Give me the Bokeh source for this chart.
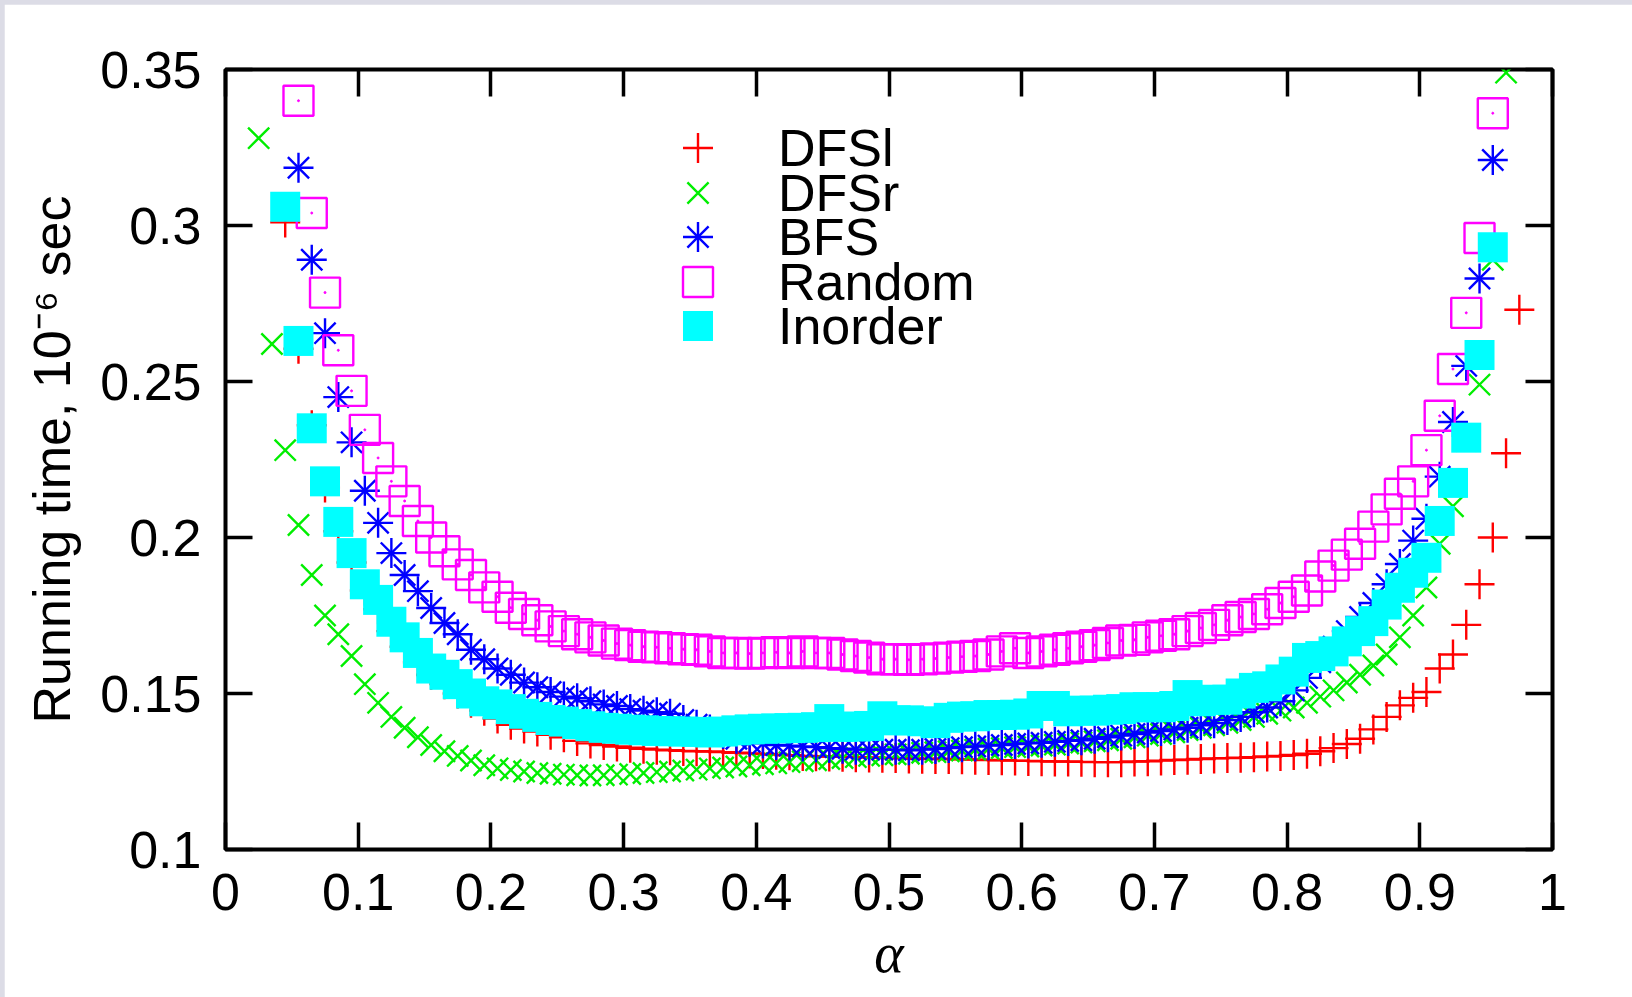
from bokeh.plotting import figure
from bokeh.models import Range1d, LinearAxis, FixedTicker, Legend, LegendItem, ColumnDataSource
from bokeh.layouts import column
from bokeh.embed import file_html
from bokeh.resources import INLINE
import numpy as np

# ---------------- data ----------------
alpha = [0.025, 0.035, 0.045, 0.055, 0.065, 0.075, 0.085, 0.095, 0.105, 0.115,
         0.125, 0.135, 0.145, 0.155, 0.165, 0.175, 0.185, 0.195, 0.205, 0.215,
         0.225, 0.235, 0.245, 0.255, 0.265, 0.275, 0.285, 0.295, 0.305, 0.315,
         0.325, 0.335, 0.345, 0.355, 0.365, 0.375, 0.385, 0.395, 0.405, 0.415,
         0.425, 0.435, 0.445, 0.455, 0.465, 0.475, 0.485, 0.495, 0.505, 0.515,
         0.525, 0.535, 0.545, 0.555, 0.565, 0.575, 0.585, 0.595, 0.605, 0.615,
         0.625, 0.635, 0.645, 0.655, 0.665, 0.675, 0.685, 0.695, 0.705, 0.715,
         0.725, 0.735, 0.745, 0.755, 0.765, 0.775, 0.785, 0.795, 0.805, 0.815,
         0.825, 0.835, 0.845, 0.855, 0.865, 0.875, 0.885, 0.895, 0.905, 0.915,
         0.925, 0.935, 0.945, 0.955, 0.965, 0.975]

dfsl = [None, None, 0.301, 0.2605, 0.236, 0.216, 0.202, 0.192, 0.183, 0.177,
        0.170, 0.165, 0.160, 0.156, 0.153, 0.150, 0.147, 0.1445, 0.142, 0.140,
        0.1388, 0.1378, 0.1368, 0.136, 0.1348, 0.134, 0.1335, 0.133, 0.1326, 0.1323,
        0.132, 0.1318, 0.1316, 0.1315, 0.1314, 0.1312, 0.131, 0.1308, 0.1306, 0.1304,
        0.1302, 0.130, 0.1299, 0.1298, 0.1297, 0.1296, 0.1295, 0.1294, 0.1293, 0.1292,
        0.1291, 0.129, 0.129, 0.1289, 0.1288, 0.1287, 0.1286, 0.1285, 0.1284, 0.1283,
        0.1282, 0.1282, 0.1281, 0.128, 0.128, 0.128, 0.1282, 0.1283, 0.1285, 0.1287,
        0.1288, 0.129, 0.1292, 0.1293, 0.1294, 0.1296, 0.1298, 0.130, 0.1303, 0.1307,
        0.1315, 0.1325, 0.1338, 0.1355, 0.1385, 0.1425, 0.1462, 0.1486, 0.1505, 0.158,
        0.1625, 0.172, 0.185, 0.200, 0.227, 0.273]

dfsr = [0.328, 0.262, 0.228, 0.204, 0.188, 0.175, 0.169, 0.162, 0.153, 0.147,
        0.1425, 0.139, 0.136, 0.1335, 0.1315, 0.130, 0.1285, 0.127, 0.126, 0.1255,
        0.125, 0.1245, 0.1243, 0.124, 0.1238, 0.1237, 0.1238, 0.124, 0.1242, 0.1245,
        0.1248, 0.125, 0.1253, 0.1256, 0.126, 0.1263, 0.1266, 0.127, 0.1273, 0.1276,
        0.128, 0.1283, 0.1286, 0.129, 0.1293, 0.1296, 0.130, 0.1302, 0.1305, 0.1307,
        0.131, 0.1312, 0.1315, 0.1317, 0.132, 0.1323, 0.1325, 0.1328, 0.133, 0.1333,
        0.1336, 0.134, 0.1343, 0.1347, 0.135, 0.1355, 0.136, 0.1365, 0.137, 0.1376,
        0.1383, 0.139, 0.1398, 0.1406, 0.1415, 0.1425, 0.1435, 0.1445, 0.1455, 0.147,
        0.149, 0.151, 0.1535, 0.156, 0.159, 0.1625, 0.168, 0.175, 0.184, 0.198,
        0.21, 0.231, 0.249, 0.289, 0.349, None]

bfs = [None, None, None, 0.3185, 0.289, 0.2655, 0.245, 0.2305, 0.215, 0.2047,
       0.195, 0.188, 0.1828, 0.1774, 0.1726, 0.169, 0.164, 0.161, 0.158, 0.156,
       0.1535, 0.152, 0.1505, 0.149, 0.1485, 0.1475, 0.1465, 0.146, 0.145, 0.1445,
       0.144, 0.1435, 0.1415, 0.140, 0.1385, 0.137, 0.1355, 0.1345, 0.134, 0.1335,
       0.1333, 0.133, 0.1328, 0.1325, 0.1323, 0.132, 0.132, 0.132, 0.132, 0.1318,
       0.132, 0.1322, 0.1325, 0.1328, 0.133, 0.1333, 0.1335, 0.1338, 0.134, 0.1342,
       0.1345, 0.1348, 0.135, 0.1355, 0.136, 0.1365, 0.137, 0.1375, 0.138, 0.1385,
       0.139, 0.1398, 0.1405, 0.1415, 0.1425, 0.144, 0.1455, 0.1475, 0.151, 0.155,
       0.160, 0.165, 0.170, 0.1745, 0.179, 0.185, 0.1915, 0.199, 0.206, 0.2195,
       0.237, 0.255, 0.283, 0.321, None, None]

random_ = [None, None, None, 0.340, 0.304, 0.2785, 0.260, 0.247, 0.2345, 0.2255,
           0.218, 0.2117, 0.2053, 0.200, 0.1956, 0.1914, 0.188, 0.184, 0.181, 0.1775,
           0.1755, 0.1735, 0.1715, 0.170, 0.169, 0.168, 0.167, 0.166, 0.1655, 0.165,
           0.1648, 0.1645, 0.1642, 0.164, 0.1635, 0.163, 0.163, 0.1628, 0.163, 0.1632,
           0.163, 0.1635, 0.163, 0.163, 0.1625, 0.162, 0.1615, 0.161, 0.161, 0.1608,
           0.161, 0.1612, 0.1615, 0.1618, 0.162, 0.1625, 0.1635, 0.1645, 0.163, 0.1635,
           0.164, 0.1645, 0.165, 0.1655, 0.1662, 0.167, 0.1672, 0.168, 0.1685, 0.169,
           0.170, 0.171, 0.172, 0.1735, 0.1745, 0.1755, 0.177, 0.179, 0.181, 0.183,
           0.1875, 0.191, 0.1945, 0.198, 0.2035, 0.209, 0.214, 0.218, 0.228, 0.239,
           0.254, 0.272, 0.296, 0.336, None, None]

inorder = [None, None, 0.306, 0.263, 0.235, 0.218, 0.205, 0.195, 0.185, 0.180,
           0.173, 0.168, 0.163, 0.158, 0.156, 0.153, 0.150, 0.1475, 0.1465, 0.145,
           0.1435, 0.1425, 0.1415, 0.141, 0.1402, 0.1395, 0.139, 0.1387, 0.1384, 0.1382,
           0.138, 0.1379, 0.1378, 0.1377, 0.1375, 0.1378, 0.1382, 0.1385, 0.1387, 0.1388,
           0.1389, 0.139, 0.1392, 0.1418, 0.1393, 0.1394, 0.1396, 0.1427, 0.1414, 0.1414,
           0.1411, 0.1405, 0.1422, 0.1426, 0.1427, 0.1431, 0.1431, 0.1432, 0.1436, 0.146,
           0.146, 0.1443, 0.1445, 0.1445, 0.1448, 0.145, 0.1456, 0.1456, 0.1456, 0.146,
           0.1495, 0.1475, 0.148, 0.148, 0.150, 0.1518, 0.1523, 0.1545, 0.157, 0.1614,
           0.162, 0.1635, 0.1667, 0.170, 0.1732, 0.1785, 0.1839, 0.1887, 0.1935, 0.2053,
           0.2175, 0.232, 0.2585, 0.293, None, None]

x_ticks = [0, 0.1, 0.2, 0.3, 0.4, 0.5, 0.6, 0.7, 0.8, 0.9, 1]
x_tick_labels = ["0", "0.1", "0.2", "0.3", "0.4", "0.5", "0.6", "0.7", "0.8", "0.9", "1"]
y_ticks = [0.1, 0.15, 0.2, 0.25, 0.3, 0.35]
y_tick_labels = ["0.1", "0.15", "0.2", "0.25", "0.3", "0.35"]

series_names = ["DFSl", "DFSr", "BFS", "Random", "Inorder"]


def src(vals):
    y = np.array([np.nan if v is None else v for v in vals], dtype=float)
    return ColumnDataSource(dict(x=alpha, y=y))


FONT = "Liberation Sans"

p = figure(width=1628, height=993, x_range=Range1d(0, 1), y_range=Range1d(0.1, 0.35),
           output_backend="svg", toolbar_location=None,
           min_border_left=221, min_border_right=80, min_border_top=65, min_border_bottom=148)
p.background_fill_color = "white"
p.border_fill_color = "white"
p.grid.visible = False
p.outline_line_color = "black"
p.outline_line_width = 4

xb = p.xaxis[0]
yl = p.yaxis[0]

MS = 30
LW = 2.4
r_dfsl = p.scatter("x", "y", source=src(dfsl), marker="cross", size=MS, line_color="#ff0000", line_width=LW)
r_dfsr = p.scatter("x", "y", source=src(dfsr), marker="x", size=MS, line_color="#00ee00", line_width=LW)
s_bfs = src(bfs)
r_bfs1 = p.scatter("x", "y", source=s_bfs, marker="cross", size=MS, line_color="#0000ff", line_width=LW)
r_bfs2 = p.scatter("x", "y", source=s_bfs, marker="x", size=MS, line_color="#0000ff", line_width=LW)
s_rnd = src(random_)
r_rnd1 = p.scatter("x", "y", source=s_rnd, marker="square", size=MS, line_color="#ff00ff",
                   fill_color=None, line_width=LW)
r_rnd2 = p.scatter("x", "y", source=s_rnd, marker="circle", size=2, line_color="#ff00ff",
                   fill_color="#ff00ff", line_width=1)
r_ino = p.scatter("x", "y", source=src(inorder), marker="square", size=MS, line_color="#00ffff",
                  fill_color="#00ffff", line_width=0)


def style_axis(ax, ticks, labels, show_labels):
    ax.ticker = FixedTicker(ticks=ticks)
    ax.major_label_overrides = {t: l for t, l in zip(ticks, labels)}
    ax.major_tick_in = 27
    ax.major_tick_out = 0
    ax.major_tick_line_width = 3.5
    ax.major_tick_line_color = "black"
    ax.minor_tick_line_color = None
    ax.axis_line_color = None
    if show_labels:
        ax.major_label_text_font = FONT
        ax.major_label_text_font_size = "52px"
        ax.major_label_text_color = "black"
    else:
        ax.major_label_text_color = None
        ax.major_label_text_font_size = "1px"
        ax.major_label_standoff = 0


style_axis(xb, x_ticks, x_tick_labels, True)
style_axis(yl, y_ticks, y_tick_labels, True)
xb.major_label_standoff = 24
yl.major_label_standoff = 24

top_ax = LinearAxis()
style_axis(top_ax, x_ticks, x_tick_labels, False)
p.add_layout(top_ax, "above")
right_ax = LinearAxis()
style_axis(right_ax, y_ticks, y_tick_labels, False)
p.add_layout(right_ax, "right")

xb.axis_label = "α"
xb.axis_label_text_font = "Liberation Serif"
xb.axis_label_text_font_style = "italic"
xb.axis_label_text_font_size = "56px"
xb.axis_label_text_color = "black"
xb.axis_label_standoff = 9

yl.axis_label = "Running time, 10⁻⁶ sec"
yl.axis_label_text_font = FONT
yl.axis_label_text_font_style = "normal"
yl.axis_label_text_font_size = "52px"
yl.axis_label_text_color = "black"
yl.axis_label_standoff = 16

# one legend per entry so rows can sit 44 px apart (as in the reference)
legend_entries = [(series_names[0], [r_dfsl]),
                  (series_names[1], [r_dfsr]),
                  (series_names[2], [r_bfs1, r_bfs2]),
                  (series_names[3], [r_rnd1]),
                  (series_names[4], [r_ino])]
legend_bottoms = [664, 619, 575, 530, 486]
for (name, rends), yb in zip(legend_entries, legend_bottoms):
    lg = Legend(items=[LegendItem(label=name, renderers=rends)], location=(435, yb),
                glyph_width=75, glyph_height=75, label_standoff=43,
                padding=0, margin=0, border_line_color=None, background_fill_alpha=0,
                label_text_font=FONT, label_text_font_size="52px", label_text_color="black")
    p.add_layout(lg)

page = column(p, styles={"padding-left": "4px", "padding-top": "4px", "background-color": "#dcdce6"})

open("out.html", "w").write(file_html(page, INLINE))
